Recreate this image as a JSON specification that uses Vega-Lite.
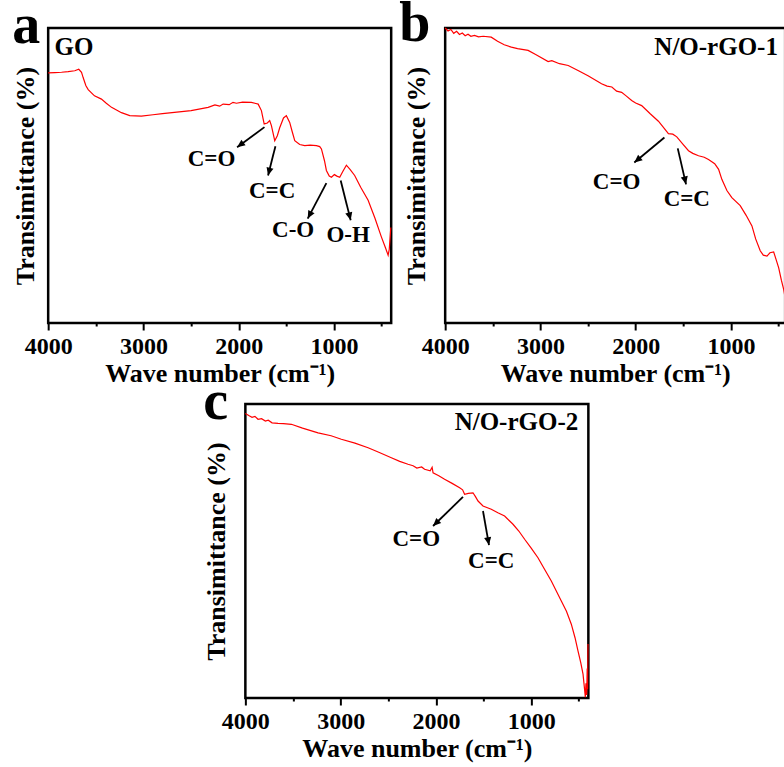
{
  "$schema": "https://vega.github.io/schema/vega-lite/v6.json",
  "padding": {"left": 10, "top": -6, "right": 0, "bottom": 0},
  "background": "white",
  "config": {
    "view": {"stroke": "black", "strokeWidth": 2.5},
    "title": {"font": "Liberation Serif", "fontSize": 56, "fontWeight": "bold", "color": "black", "anchor": "start", "baseline": "alphabetic", "offset": -27},
    "axis": {"labelFont": "Liberation Serif", "labelFontSize": 24, "labelFontWeight": "bold", "labelColor": "black", "titleFont": "Liberation Serif", "titleFontSize": 26, "titleFontWeight": "bold", "titleColor": "black", "grid": false, "domain": false},
    "text": {"font": "Liberation Serif", "fontWeight": "bold", "color": "black"}
  },
  "datasets": {
    "spectra": [
      {"panel":"a","w":4000,"t":84.8},{"panel":"a","w":3930,"t":84.9},{"panel":"a","w":3860,"t":85.0},{"panel":"a","w":3790,"t":85.2},{"panel":"a","w":3721,"t":85.5},{"panel":"a","w":3679,"t":86.0},{"panel":"a","w":3650,"t":85.0},{"panel":"a","w":3633,"t":83.2},{"panel":"a","w":3605,"t":80.5},{"panel":"a","w":3580,"t":79.1},{"panel":"a","w":3514,"t":77.0},{"panel":"a","w":3441,"t":75.9},{"panel":"a","w":3390,"t":74.5},{"panel":"a","w":3335,"t":73.1},{"panel":"a","w":3231,"t":71.3},{"panel":"a","w":3144,"t":70.3},{"panel":"a","w":3022,"t":70.1},{"panel":"a","w":2900,"t":70.6},{"panel":"a","w":2800,"t":71.0},{"panel":"a","w":2675,"t":71.4},{"panel":"a","w":2500,"t":72.0},{"panel":"a","w":2321,"t":73.1},{"panel":"a","w":2250,"t":73.9},{"panel":"a","w":2200,"t":73.5},{"panel":"a","w":2164,"t":74.2},{"panel":"a","w":2100,"t":74.0},{"panel":"a","w":2060,"t":74.8},{"panel":"a","w":2024,"t":74.5},{"panel":"a","w":1960,"t":74.9},{"panel":"a","w":1867,"t":74.8},{"panel":"a","w":1820,"t":74.4},{"panel":"a","w":1796,"t":74.2},{"panel":"a","w":1762,"t":72.0},{"panel":"a","w":1733,"t":67.5},{"panel":"a","w":1700,"t":67.8},{"panel":"a","w":1675,"t":68.6},{"panel":"a","w":1657,"t":66.9},{"panel":"a","w":1622,"t":61.8},{"panel":"a","w":1595,"t":63.5},{"panel":"a","w":1570,"t":66.2},{"panel":"a","w":1530,"t":69.5},{"panel":"a","w":1500,"t":70.3},{"panel":"a","w":1465,"t":68.0},{"panel":"a","w":1440,"t":65.0},{"panel":"a","w":1412,"t":61.8},{"panel":"a","w":1360,"t":60.5},{"panel":"a","w":1307,"t":60.1},{"panel":"a","w":1250,"t":60.3},{"panel":"a","w":1185,"t":60.1},{"panel":"a","w":1150,"t":59.8},{"panel":"a","w":1132,"t":59.0},{"panel":"a","w":1100,"t":55.0},{"panel":"a","w":1080,"t":51.7},{"panel":"a","w":1050,"t":49.8},{"panel":"a","w":1027,"t":49.4},{"panel":"a","w":996,"t":50.3},{"panel":"a","w":970,"t":49.8},{"panel":"a","w":940,"t":49.4},{"panel":"a","w":905,"t":51.5},{"panel":"a","w":870,"t":53.5},{"panel":"a","w":830,"t":52.0},{"panel":"a","w":783,"t":50.0},{"panel":"a","w":720,"t":46.0},{"panel":"a","w":642,"t":41.6},{"panel":"a","w":570,"t":35.5},{"panel":"a","w":503,"t":29.2},{"panel":"a","w":460,"t":25.5},{"panel":"a","w":432,"t":23.0},{"panel":"a","w":420,"t":25.0},{"panel":"a","w":404,"t":32.4},
      {"panel":"b","w":4000,"t":100.0},{"panel":"b","w":3970,"t":99.0},{"panel":"b","w":3940,"t":99.5},{"panel":"b","w":3910,"t":98.2},{"panel":"b","w":3880,"t":98.9},{"panel":"b","w":3850,"t":97.8},{"panel":"b","w":3820,"t":98.3},{"panel":"b","w":3790,"t":97.4},{"panel":"b","w":3760,"t":97.9},{"panel":"b","w":3730,"t":97.2},{"panel":"b","w":3692,"t":97.5},{"panel":"b","w":3650,"t":97.0},{"panel":"b","w":3600,"t":97.2},{"panel":"b","w":3516,"t":96.9},{"panel":"b","w":3450,"t":95.5},{"panel":"b","w":3380,"t":94.3},{"panel":"b","w":3305,"t":93.5},{"panel":"b","w":3240,"t":93.0},{"panel":"b","w":3129,"t":92.4},{"panel":"b","w":3050,"t":91.0},{"panel":"b","w":2919,"t":88.6},{"panel":"b","w":2880,"t":88.9},{"panel":"b","w":2800,"t":87.9},{"panel":"b","w":2708,"t":87.3},{"panel":"b","w":2600,"t":85.5},{"panel":"b","w":2500,"t":83.8},{"panel":"b","w":2358,"t":81.1},{"panel":"b","w":2300,"t":80.3},{"panel":"b","w":2250,"t":80.0},{"panel":"b","w":2200,"t":78.6},{"panel":"b","w":2147,"t":78.2},{"panel":"b","w":2100,"t":77.0},{"panel":"b","w":2042,"t":75.4},{"panel":"b","w":2000,"t":74.6},{"panel":"b","w":1937,"t":73.7},{"panel":"b","w":1850,"t":71.0},{"panel":"b","w":1761,"t":68.4},{"panel":"b","w":1700,"t":66.0},{"panel":"b","w":1656,"t":64.2},{"panel":"b","w":1610,"t":64.0},{"panel":"b","w":1568,"t":63.1},{"panel":"b","w":1500,"t":60.5},{"panel":"b","w":1445,"t":58.4},{"panel":"b","w":1400,"t":57.5},{"panel":"b","w":1340,"t":56.7},{"panel":"b","w":1280,"t":56.2},{"panel":"b","w":1235,"t":55.4},{"panel":"b","w":1170,"t":54.0},{"panel":"b","w":1129,"t":52.1},{"panel":"b","w":1095,"t":48.7},{"panel":"b","w":1042,"t":44.9},{"panel":"b","w":990,"t":42.5},{"panel":"b","w":902,"t":39.8},{"panel":"b","w":840,"t":36.5},{"panel":"b","w":779,"t":32.9},{"panel":"b","w":740,"t":28.5},{"panel":"b","w":692,"t":24.5},{"panel":"b","w":660,"t":23.0},{"panel":"b","w":621,"t":22.7},{"panel":"b","w":590,"t":23.8},{"panel":"b","w":551,"t":24.1},{"panel":"b","w":525,"t":21.5},{"panel":"b","w":498,"t":18.7},{"panel":"b","w":470,"t":14.5},{"panel":"b","w":445,"t":11.3},{"panel":"b","w":430,"t":8.5},
      {"panel":"c","w":4000,"t":96.8},{"panel":"c","w":3960,"t":96.0},{"panel":"c","w":3930,"t":95.5},{"panel":"c","w":3900,"t":95.8},{"panel":"c","w":3867,"t":94.8},{"panel":"c","w":3830,"t":95.0},{"panel":"c","w":3790,"t":94.2},{"panel":"c","w":3760,"t":94.5},{"panel":"c","w":3720,"t":93.6},{"panel":"c","w":3657,"t":93.4},{"panel":"c","w":3600,"t":93.3},{"panel":"c","w":3517,"t":93.1},{"panel":"c","w":3400,"t":91.8},{"panel":"c","w":3237,"t":90.2},{"panel":"c","w":3100,"t":89.2},{"panel":"c","w":2993,"t":88.0},{"panel":"c","w":2850,"t":86.7},{"panel":"c","w":2712,"t":85.1},{"panel":"c","w":2600,"t":83.6},{"panel":"c","w":2468,"t":81.7},{"panel":"c","w":2380,"t":80.5},{"panel":"c","w":2293,"t":79.5},{"panel":"c","w":2240,"t":79.0},{"panel":"c","w":2200,"t":78.2},{"panel":"c","w":2150,"t":78.6},{"panel":"c","w":2119,"t":77.8},{"panel":"c","w":2060,"t":77.3},{"panel":"c","w":2040,"t":78.5},{"panel":"c","w":2030,"t":76.6},{"panel":"c","w":1970,"t":75.6},{"panel":"c","w":1909,"t":74.4},{"panel":"c","w":1830,"t":73.0},{"panel":"c","w":1751,"t":71.5},{"panel":"c","w":1720,"t":70.8},{"panel":"c","w":1699,"t":69.3},{"panel":"c","w":1660,"t":69.6},{"panel":"c","w":1611,"t":69.8},{"panel":"c","w":1585,"t":68.5},{"panel":"c","w":1558,"t":67.0},{"panel":"c","w":1506,"t":65.3},{"panel":"c","w":1419,"t":64.2},{"panel":"c","w":1350,"t":63.0},{"panel":"c","w":1279,"t":61.9},{"panel":"c","w":1191,"t":59.1},{"panel":"c","w":1130,"t":56.8},{"panel":"c","w":1069,"t":54.0},{"panel":"c","w":1000,"t":51.0},{"panel":"c","w":929,"t":47.7},{"panel":"c","w":860,"t":43.8},{"panel":"c","w":789,"t":39.8},{"panel":"c","w":730,"t":36.0},{"panel":"c","w":684,"t":33.0},{"panel":"c","w":630,"t":29.5},{"panel":"c","w":579,"t":25.1},{"panel":"c","w":540,"t":20.5},{"panel":"c","w":509,"t":16.0},{"panel":"c","w":480,"t":12.0},{"panel":"c","w":456,"t":8.1},{"panel":"c","w":440,"t":3.0},{"panel":"c","w":432,"t":0.3},{"panel":"c","w":425,"t":5.0},{"panel":"c","w":418,"t":1.0},{"panel":"c","w":412,"t":10.0},{"panel":"c","w":408,"t":3.0},{"panel":"c","w":404,"t":18.4}
    ],
    "arrows": [
      {"panel":"a","x":1730,"y":66.4,"x2":2017,"y2":59.6},
      {"panel":"a","x":1615,"y":59.9,"x2":1692,"y2":50.0},
      {"panel":"a","x":1080,"y":47.4,"x2":1276,"y2":35.4},
      {"panel":"a","x":930,"y":48.3,"x2":825,"y2":34.8},
      {"panel":"b","x":1698,"y":62.9,"x2":2014,"y2":54.4},
      {"panel":"b","x":1558,"y":59.2,"x2":1471,"y2":47.0},
      {"panel":"c","x":1716,"y":68.4,"x2":2030,"y2":58.5},
      {"panel":"c","x":1506,"y":63.6,"x2":1443,"y2":52.0}
    ],
    "labels": [
      {"panel":"a","x":2286,"y":55.7,"text":"C=O"},
      {"panel":"a","x":1650,"y":44.9,"text":"C=C"},
      {"panel":"a","x":1429,"y":31.4,"text":"C-O"},
      {"panel":"a","x":852,"y":29.7,"text":"O-H"},
      {"panel":"b","x":2200,"y":47.9,"text":"C=O"},
      {"panel":"b","x":1463,"y":41.9,"text":"C=C"},
      {"panel":"c","x":2206,"y":54.0,"text":"C=O"},
      {"panel":"c","x":1419,"y":46.6,"text":"C=C"}
    ],
    "names": [
      {"panel":"a","x":3934,"y":93.6,"text":"GO"},
      {"panel":"b","x":506,"y":93.5,"text":"N/O-rGO-1"},
      {"panel":"c","x":506,"y":93.9,"text":"N/O-rGO-2"}
    ]
  },
  "vconcat": [
    {
      "hconcat": [
        {
          "width": 343, "height": 295,
          "title": {"text": "a"},
          "layer": [
            {"data": {"name": "spectra"}, "transform": [{"filter": "datum.panel === 'a'"}],
             "mark": {"type": "line", "color": "#ff0000", "strokeWidth": 1.2},
             "encoding": {
               "x": {"field": "w", "type": "quantitative", "scale": {"domain": [4000, 400], "nice": false, "zero": false},
                     "axis": {"title": "Wave number (cm⁻¹)", "values": [4000,3500,3000,2500,2000,1500,1000,500], "format": "d", "labelExpr": "datum.value % 1000 === 0 ? datum.label : ''", "labelFlush": false, "labelOverlap": false, "tickColor": "black", "tickWidth": 2, "tickSize": {"condition": {"test": "datum.value % 1000 === 0", "value": 7}, "value": 3}, "labelPadding": 4, "titlePadding": 2}},
               "y": {"field": "t", "type": "quantitative", "scale": {"domain": [0, 100], "nice": false},
                     "axis": {"title": "Transimittance (%)", "labels": false, "ticks": false, "titlePadding": 10}}
             }},
            {"data": {"name": "arrows"}, "transform": [{"filter": "datum.panel === 'a'"}],
             "mark": {"type": "rule", "color": "black", "strokeWidth": 1.8},
             "encoding": {"x": {"field": "x", "type": "quantitative"}, "y": {"field": "y", "type": "quantitative"}, "x2": {"field": "x2"}, "y2": {"field": "y2"}}},
            {"data": {"name": "arrows"}, "transform": [{"filter": "datum.panel === 'a'"}, {"calculate": "atan2(-(datum.x2 - datum.x) * 0.0953, (datum.y2 - datum.y) * 2.95) * 180 / PI", "as": "ang"}],
             "mark": {"type": "point", "shape": "M0,0L0.45,1L-0.45,1Z", "filled": true, "color": "black", "opacity": 1, "size": 250},
             "encoding": {"x": {"field": "x2", "type": "quantitative"}, "y": {"field": "y2", "type": "quantitative"}, "angle": {"field": "ang", "type": "quantitative", "scale": null}}},
            {"data": {"name": "labels"}, "transform": [{"filter": "datum.panel === 'a'"}],
             "mark": {"type": "text", "fontSize": 23, "align": "center", "baseline": "middle"},
             "encoding": {"x": {"field": "x", "type": "quantitative"}, "y": {"field": "y", "type": "quantitative"}, "text": {"field": "text"}}},
            {"data": {"name": "names"}, "transform": [{"filter": "datum.panel === 'a'"}],
             "mark": {"type": "text", "fontSize": 25, "align": "left", "baseline": "middle"},
             "encoding": {"x": {"field": "x", "type": "quantitative"}, "y": {"field": "y", "type": "quantitative"}, "text": {"field": "text"}}}
          ]
        },
        {
          "width": 340, "height": 295,
          "title": {"text": "b", "dx": -4},
          "layer": [
            {"data": {"name": "spectra"}, "transform": [{"filter": "datum.panel === 'b'"}],
             "mark": {"type": "line", "color": "#ff0000", "strokeWidth": 1.2},
             "encoding": {
               "x": {"field": "w", "type": "quantitative", "scale": {"domain": [4000, 430], "nice": false, "zero": false},
                     "axis": {"title": "Wave number (cm⁻¹)", "values": [4000,3500,3000,2500,2000,1500,1000,500], "format": "d", "labelExpr": "datum.value % 1000 === 0 ? datum.label : ''", "labelFlush": false, "labelOverlap": false, "tickColor": "black", "tickWidth": 2, "tickSize": {"condition": {"test": "datum.value % 1000 === 0", "value": 7}, "value": 3}, "labelPadding": 4, "titlePadding": 2}},
               "y": {"field": "t", "type": "quantitative", "scale": {"domain": [0, 100], "nice": false},
                     "axis": {"title": "Transimittance (%)", "labels": false, "ticks": false, "titlePadding": 16}}
             }},
            {"data": {"name": "arrows"}, "transform": [{"filter": "datum.panel === 'b'"}],
             "mark": {"type": "rule", "color": "black", "strokeWidth": 1.8},
             "encoding": {"x": {"field": "x", "type": "quantitative"}, "y": {"field": "y", "type": "quantitative"}, "x2": {"field": "x2"}, "y2": {"field": "y2"}}},
            {"data": {"name": "arrows"}, "transform": [{"filter": "datum.panel === 'b'"}, {"calculate": "atan2(-(datum.x2 - datum.x) * 0.0953, (datum.y2 - datum.y) * 2.95) * 180 / PI", "as": "ang"}],
             "mark": {"type": "point", "shape": "M0,0L0.45,1L-0.45,1Z", "filled": true, "color": "black", "opacity": 1, "size": 250},
             "encoding": {"x": {"field": "x2", "type": "quantitative"}, "y": {"field": "y2", "type": "quantitative"}, "angle": {"field": "ang", "type": "quantitative", "scale": null}}},
            {"data": {"name": "labels"}, "transform": [{"filter": "datum.panel === 'b'"}],
             "mark": {"type": "text", "fontSize": 23, "align": "center", "baseline": "middle"},
             "encoding": {"x": {"field": "x", "type": "quantitative"}, "y": {"field": "y", "type": "quantitative"}, "text": {"field": "text"}}},
            {"data": {"name": "names"}, "transform": [{"filter": "datum.panel === 'b'"}],
             "mark": {"type": "text", "fontSize": 25, "align": "right", "baseline": "middle"},
             "encoding": {"x": {"field": "x", "type": "quantitative"}, "y": {"field": "y", "type": "quantitative"}, "text": {"field": "text"}}}
          ]
        }
      ],
      "spacing": 2
    },
    {
      "width": 343, "height": 294,
      "title": {"text": "c"},
      "layer": [
        {"data": {"name": "spectra"}, "transform": [{"filter": "datum.panel === 'c'"}],
         "mark": {"type": "line", "color": "#ff0000", "strokeWidth": 1.2},
         "encoding": {
           "x": {"field": "w", "type": "quantitative", "scale": {"domain": [4000, 400], "nice": false, "zero": false},
                 "axis": {"title": "Wave number (cm⁻¹)", "values": [4000,3500,3000,2500,2000,1500,1000,500], "format": "d", "labelExpr": "datum.value % 1000 === 0 ? datum.label : ''", "labelFlush": false, "labelOverlap": false, "tickColor": "black", "tickWidth": 2, "tickSize": {"condition": {"test": "datum.value % 1000 === 0", "value": 7}, "value": 3}, "labelPadding": 4, "titlePadding": 2}},
           "y": {"field": "t", "type": "quantitative", "scale": {"domain": [0, 100], "nice": false},
                 "axis": {"title": "Transimittance (%)", "labels": false, "ticks": false, "titlePadding": 16}}
         }},
        {"data": {"name": "arrows"}, "transform": [{"filter": "datum.panel === 'c'"}],
         "mark": {"type": "rule", "color": "black", "strokeWidth": 1.8},
         "encoding": {"x": {"field": "x", "type": "quantitative"}, "y": {"field": "y", "type": "quantitative"}, "x2": {"field": "x2"}, "y2": {"field": "y2"}}},
        {"data": {"name": "arrows"}, "transform": [{"filter": "datum.panel === 'c'"}, {"calculate": "atan2(-(datum.x2 - datum.x) * 0.0953, (datum.y2 - datum.y) * 2.94) * 180 / PI", "as": "ang"}],
         "mark": {"type": "point", "shape": "M0,0L0.45,1L-0.45,1Z", "filled": true, "color": "black", "opacity": 1, "size": 250},
         "encoding": {"x": {"field": "x2", "type": "quantitative"}, "y": {"field": "y2", "type": "quantitative"}, "angle": {"field": "ang", "type": "quantitative", "scale": null}}},
        {"data": {"name": "labels"}, "transform": [{"filter": "datum.panel === 'c'"}],
         "mark": {"type": "text", "fontSize": 23, "align": "center", "baseline": "middle"},
         "encoding": {"x": {"field": "x", "type": "quantitative"}, "y": {"field": "y", "type": "quantitative"}, "text": {"field": "text"}}},
        {"data": {"name": "names"}, "transform": [{"filter": "datum.panel === 'c'"}],
         "mark": {"type": "text", "fontSize": 25, "align": "right", "baseline": "middle"},
         "encoding": {"x": {"field": "x", "type": "quantitative"}, "y": {"field": "y", "type": "quantitative"}, "text": {"field": "text"}}}
      ]
    }
  ],
  "spacing": -16,
  "center": true
}
